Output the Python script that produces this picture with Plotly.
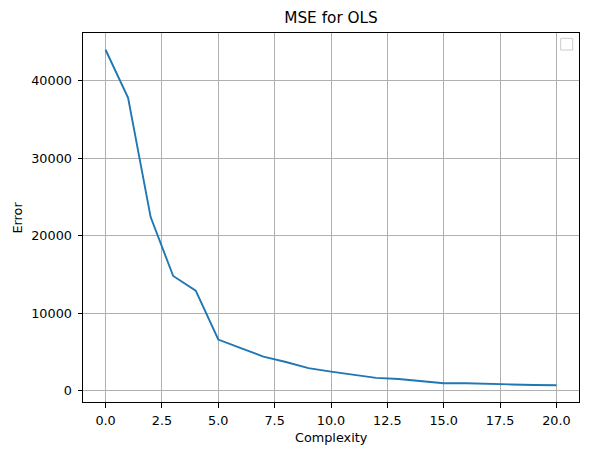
import plotly.graph_objects as go

complexity = list(range(21))
mse = [44000, 37800, 22400, 14800, 12900, 6600, 5500, 4400, 3700, 2900,
       2450, 2050, 1650, 1500, 1200, 950, 950, 920, 800, 720, 700]

x_ticks = [0, 2.5, 5, 7.5, 10, 12.5, 15, 17.5, 20]
x_tick_text = ["0.0", "2.5", "5.0", "7.5", "10.0", "12.5", "15.0", "17.5", "20.0"]
y_ticks = [0, 10000, 20000, 30000, 40000]
y_tick_text = ["0", "10000", "20000", "30000", "40000"]

FONT = "DejaVu Sans"

fig = go.Figure()
fig.add_trace(go.Scatter(x=complexity, y=mse, mode="lines",
                         line=dict(color="#1f77b4", width=1.9),
                         showlegend=False))

axis_common = dict(
    showline=True, linecolor="black", linewidth=1, mirror=True,
    ticks="outside", ticklen=4.5, tickwidth=1, tickcolor="black",
    showgrid=True, gridcolor="#b0b0b0", gridwidth=1,
    zeroline=False,
    tickfont=dict(family=FONT, size=12.8, color="black"),
)

fig.update_layout(
    width=589, height=455,
    margin=dict(l=83, r=10, t=33, b=53),
    paper_bgcolor="white", plot_bgcolor="white",
    font=dict(family=FONT, color="black"),
    title=dict(text="MSE for OLS", x=0.562, xanchor="center",
               y=1 - 18 / 455, yanchor="middle", yref="container",
               font=dict(family=FONT, size=15.3, color="black")),
    xaxis=dict(range=[-1, 21], tickvals=x_ticks, ticktext=x_tick_text,
               ticklabelstandoff=2, **axis_common),
    yaxis=dict(range=[-1465, 46165], tickvals=y_ticks, ticktext=y_tick_text,
               ticklabelstandoff=3, **axis_common),
    showlegend=False,
    annotations=[
        dict(text="Complexity", xref="paper", yref="paper", x=0.5, y=-(437 - 402) / 369,
             xanchor="center", yanchor="middle", showarrow=False,
             font=dict(family=FONT, size=12.8, color="black")),
        dict(text="Error", xref="paper", yref="paper", x=-(83 - 17) / 496, y=0.5,
             xanchor="center", yanchor="middle", showarrow=False, textangle=-90,
             font=dict(family=FONT, size=12.8, color="black")),
    ],
    shapes=[
        dict(type="rect", xref="paper", yref="paper",
             x0=477.7 / 496, x1=489.7 / 496, y0=1 - 17 / 369, y1=1 - 5.3 / 369,
             line=dict(color="#cccccc", width=1), fillcolor="rgba(255,255,255,0.8)"),
    ],
)

fig.write_html("out.html", config={"displayModeBar": False},
               post_script="document.body.style.margin='0';")
